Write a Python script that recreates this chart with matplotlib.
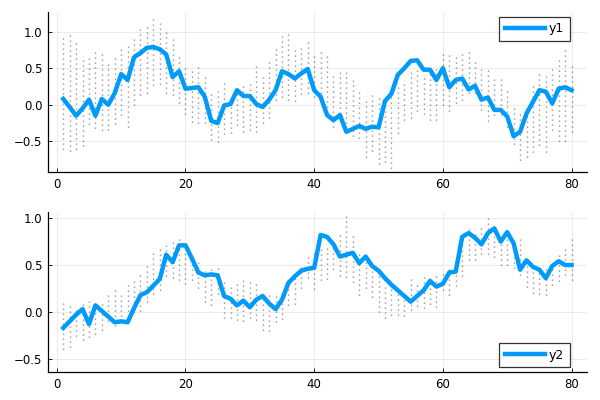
import matplotlib
matplotlib.use("Agg")
import matplotlib.pyplot as plt
import numpy as np

x = np.arange(1, 81)

# line series
y1 = [0.08, -0.03, -0.15, -0.05, 0.07, -0.15, 0.08, 0.0, 0.16, 0.42,
      0.34, 0.65, 0.71, 0.78, 0.79, 0.76, 0.69, 0.38, 0.46, 0.22,
      0.23, 0.24, 0.11, -0.22, -0.25, -0.01, 0.01, 0.2, 0.12, 0.12,
      0.01, -0.03, 0.07, 0.2, 0.46, 0.42, 0.36, 0.43, 0.49, 0.2,
      0.11, -0.14, -0.21, -0.14, -0.37, -0.33, -0.29, -0.33, -0.30, -0.31,
      0.05, 0.15, 0.41, 0.5, 0.6, 0.61, 0.48, 0.48, 0.34, 0.5,
      0.24, 0.34, 0.36, 0.21, 0.26, 0.07, 0.1, -0.07, -0.07, -0.16,
      -0.43, -0.37, -0.12, 0.04, 0.2, 0.18, 0.02, 0.22, 0.24, 0.2]
y2 = [-0.17, -0.1, -0.03, 0.03, -0.13, 0.07, 0.01, -0.05, -0.11, -0.1,
      -0.11, 0.04, 0.18, 0.21, 0.28, 0.35, 0.61, 0.53, 0.71, 0.71,
      0.57, 0.42, 0.39, 0.4, 0.39, 0.17, 0.14, 0.07, 0.12, 0.05,
      0.13, 0.17, 0.09, 0.03, 0.13, 0.31, 0.38, 0.44, 0.46, 0.47,
      0.82, 0.8, 0.72, 0.59, 0.61, 0.63, 0.52, 0.59, 0.49, 0.44,
      0.36, 0.29, 0.23, 0.17, 0.11, 0.17, 0.23, 0.33, 0.27, 0.3,
      0.42, 0.43, 0.8, 0.84, 0.79, 0.72, 0.84, 0.89, 0.75, 0.85,
      0.73, 0.45, 0.55, 0.48, 0.45, 0.36, 0.49, 0.54, 0.5, 0.5]

# extent of the sample cloud at each x (top panel)
hi1 = [0.95, 0.97, 0.88, 0.65, 0.67, 0.75, 0.7, 0.59, 0.69, 0.79,
       0.84, 0.94, 1.05, 1.07, 1.22, 1.16, 1.0, 0.91, 0.66, 0.5,
       0.46, 0.52, 0.4, 0.2, 0.2, 0.33, 0.16, 0.27, 0.28, 0.34,
       0.55, 0.42, 0.63, 0.79, 0.94, 0.97, 0.79, 0.8, 0.91, 0.69,
       0.75, 0.68, 0.43, 0.46, 0.5, 0.37, 0.23, 0.1, 0.16, 0.11,
       0.07, 0.16, 0.27, 0.32, 0.46, 0.48, 0.4, 0.47, 0.53, 0.73,
       0.69, 0.67, 0.69, 0.75, 0.59, 0.53, 0.51, 0.36, 0.37, 0.21,
       0.0, -0.09, -0.11, 0.27, 0.46, 0.42, 0.49, 0.62, 0.78, 0.55]
lo1 = [-0.6, -0.63, -0.61, -0.56, -0.26, -0.32, -0.34, -0.34, -0.26, -0.14,
       -0.31, 0.0, 0.14, 0.16, 0.27, 0.28, 0.16, 0.14, 0.02, -0.12,
       -0.23, -0.25, -0.25, -0.48, -0.51, -0.4, -0.39, -0.27, -0.37, -0.34,
       -0.37, -0.25, -0.18, 0.07, 0.11, 0.07, 0.05, 0.15, 0.16, 0.11,
       0.09, -0.17, -0.3, -0.18, -0.32, -0.43, -0.46, -0.71, -0.63, -0.81,
       -0.78, -0.86, -0.39, -0.21, -0.18, -0.09, -0.13, -0.21, -0.21, 0.0,
       -0.08, 0.02, 0.07, 0.16, 0.16, -0.07, -0.22, -0.14, -0.14, -0.3,
       -0.54, -0.75, -0.71, -0.64, -0.55, -0.64, -0.34, -0.49, -0.49, -0.37]

# extent of the sample cloud at each x (bottom panel)
hi2 = [0.1, 0.07, 0.04, 0.1, 0.13, 0.09, 0.13, 0.18, 0.24, 0.21,
       0.3, 0.33, 0.43, 0.52, 0.66, 0.71, 0.73, 0.77, 0.78, 0.78,
       0.59, 0.57, 0.48, 0.46, 0.47, 0.34, 0.29, 0.32, 0.35, 0.34,
       0.3, 0.15, 0.21, 0.2, 0.2, 0.3, 0.43, 0.52, 0.61, 0.66,
       0.7, 0.7, 0.7, 0.85, 1.02, 0.84, 0.66, 0.57, 0.48, 0.39,
       0.29, 0.26, 0.21, 0.2, 0.38, 0.33, 0.41, 0.39, 0.41, 0.45,
       0.48, 0.59, 0.71, 0.89, 0.85, 0.93, 1.01, 0.9, 0.82, 0.82,
       0.78, 0.78, 0.54, 0.46, 0.43, 0.46, 0.52, 0.64, 0.68, 0.8]
lo2 = [-0.4, -0.37, -0.26, -0.3, -0.27, -0.24, -0.19, -0.1, -0.15, -0.1,
       0.01, 0.0, 0.01, 0.11, 0.19, 0.23, 0.38, 0.36, 0.34, 0.3,
       0.34, 0.26, 0.11, 0.07, 0.19, -0.06, -0.06, -0.09, -0.1, -0.06,
       -0.09, -0.19, -0.2, -0.11, -0.07, 0.07, 0.08, 0.26, 0.36, 0.24,
       0.34, 0.35, 0.46, 0.38, 0.37, 0.32, 0.18, 0.25, 0.16, 0.0,
       -0.06, -0.03, -0.03, -0.04, 0.02, 0.06, 0.04, 0.08, 0.05, 0.23,
       0.18, 0.28, 0.38, 0.55, 0.55, 0.62, 0.62, 0.59, 0.5, 0.5,
       0.47, 0.39, 0.27, 0.2, 0.19, 0.18, 0.29, 0.33, 0.39, 0.34]

LINE_COLOR = "#009AFA"

fig = plt.figure(figsize=(6, 4), dpi=100)
ax_top = fig.add_axes([0.08, 0.57, 0.898, 0.40])
ax_bot = fig.add_axes([0.08, 0.07, 0.898, 0.40])

panels = [
    (ax_top, y1, lo1, hi1, "y1", "upper right", (0.968, 0.97), (-0.92, 1.27)),
    (ax_bot, y2, lo2, hi2, "y2", "lower right", (0.968, 0.03), (-0.64, 1.065)),
]

for ax, y, lo, hi, label, loc, anchor, ylim in panels:
    # sample cloud drawn as dotted vertical strips
    ax.vlines(x, lo, hi, colors="black", linestyles=(0, (0.6, 3.0)),
              linewidth=1.0, alpha=0.7, zorder=2)
    ax.plot(x, y, color=LINE_COLOR, linewidth=3.2, label=label, zorder=3,
            solid_joinstyle="round")
    ax.set_xlim(-1.37, 82.37)
    ax.set_ylim(*ylim)
    ax.set_xticks([0, 20, 40, 60, 80])
    ax.set_yticks([-0.5, 0.0, 0.5, 1.0])
    ax.grid(True, color="black", alpha=0.08, linewidth=0.7)
    ax.set_axisbelow(True)
    for side in ("top", "right"):
        ax.spines[side].set_visible(False)
    for side in ("left", "bottom"):
        ax.spines[side].set_linewidth(0.9)
    ax.tick_params(direction="in", length=3, width=0.6, labelsize=8.5,
                   colors="black", pad=4)
    leg = ax.legend(loc=loc, bbox_to_anchor=anchor, fontsize=9, frameon=True,
                    fancybox=False, handlelength=3.2, borderpad=0.45,
                    handletextpad=0.3, borderaxespad=0.0)
    leg.get_frame().set_edgecolor("black")
    leg.get_frame().set_linewidth(0.9)

fig.savefig("out.png", dpi=100)
plt.close(fig)
